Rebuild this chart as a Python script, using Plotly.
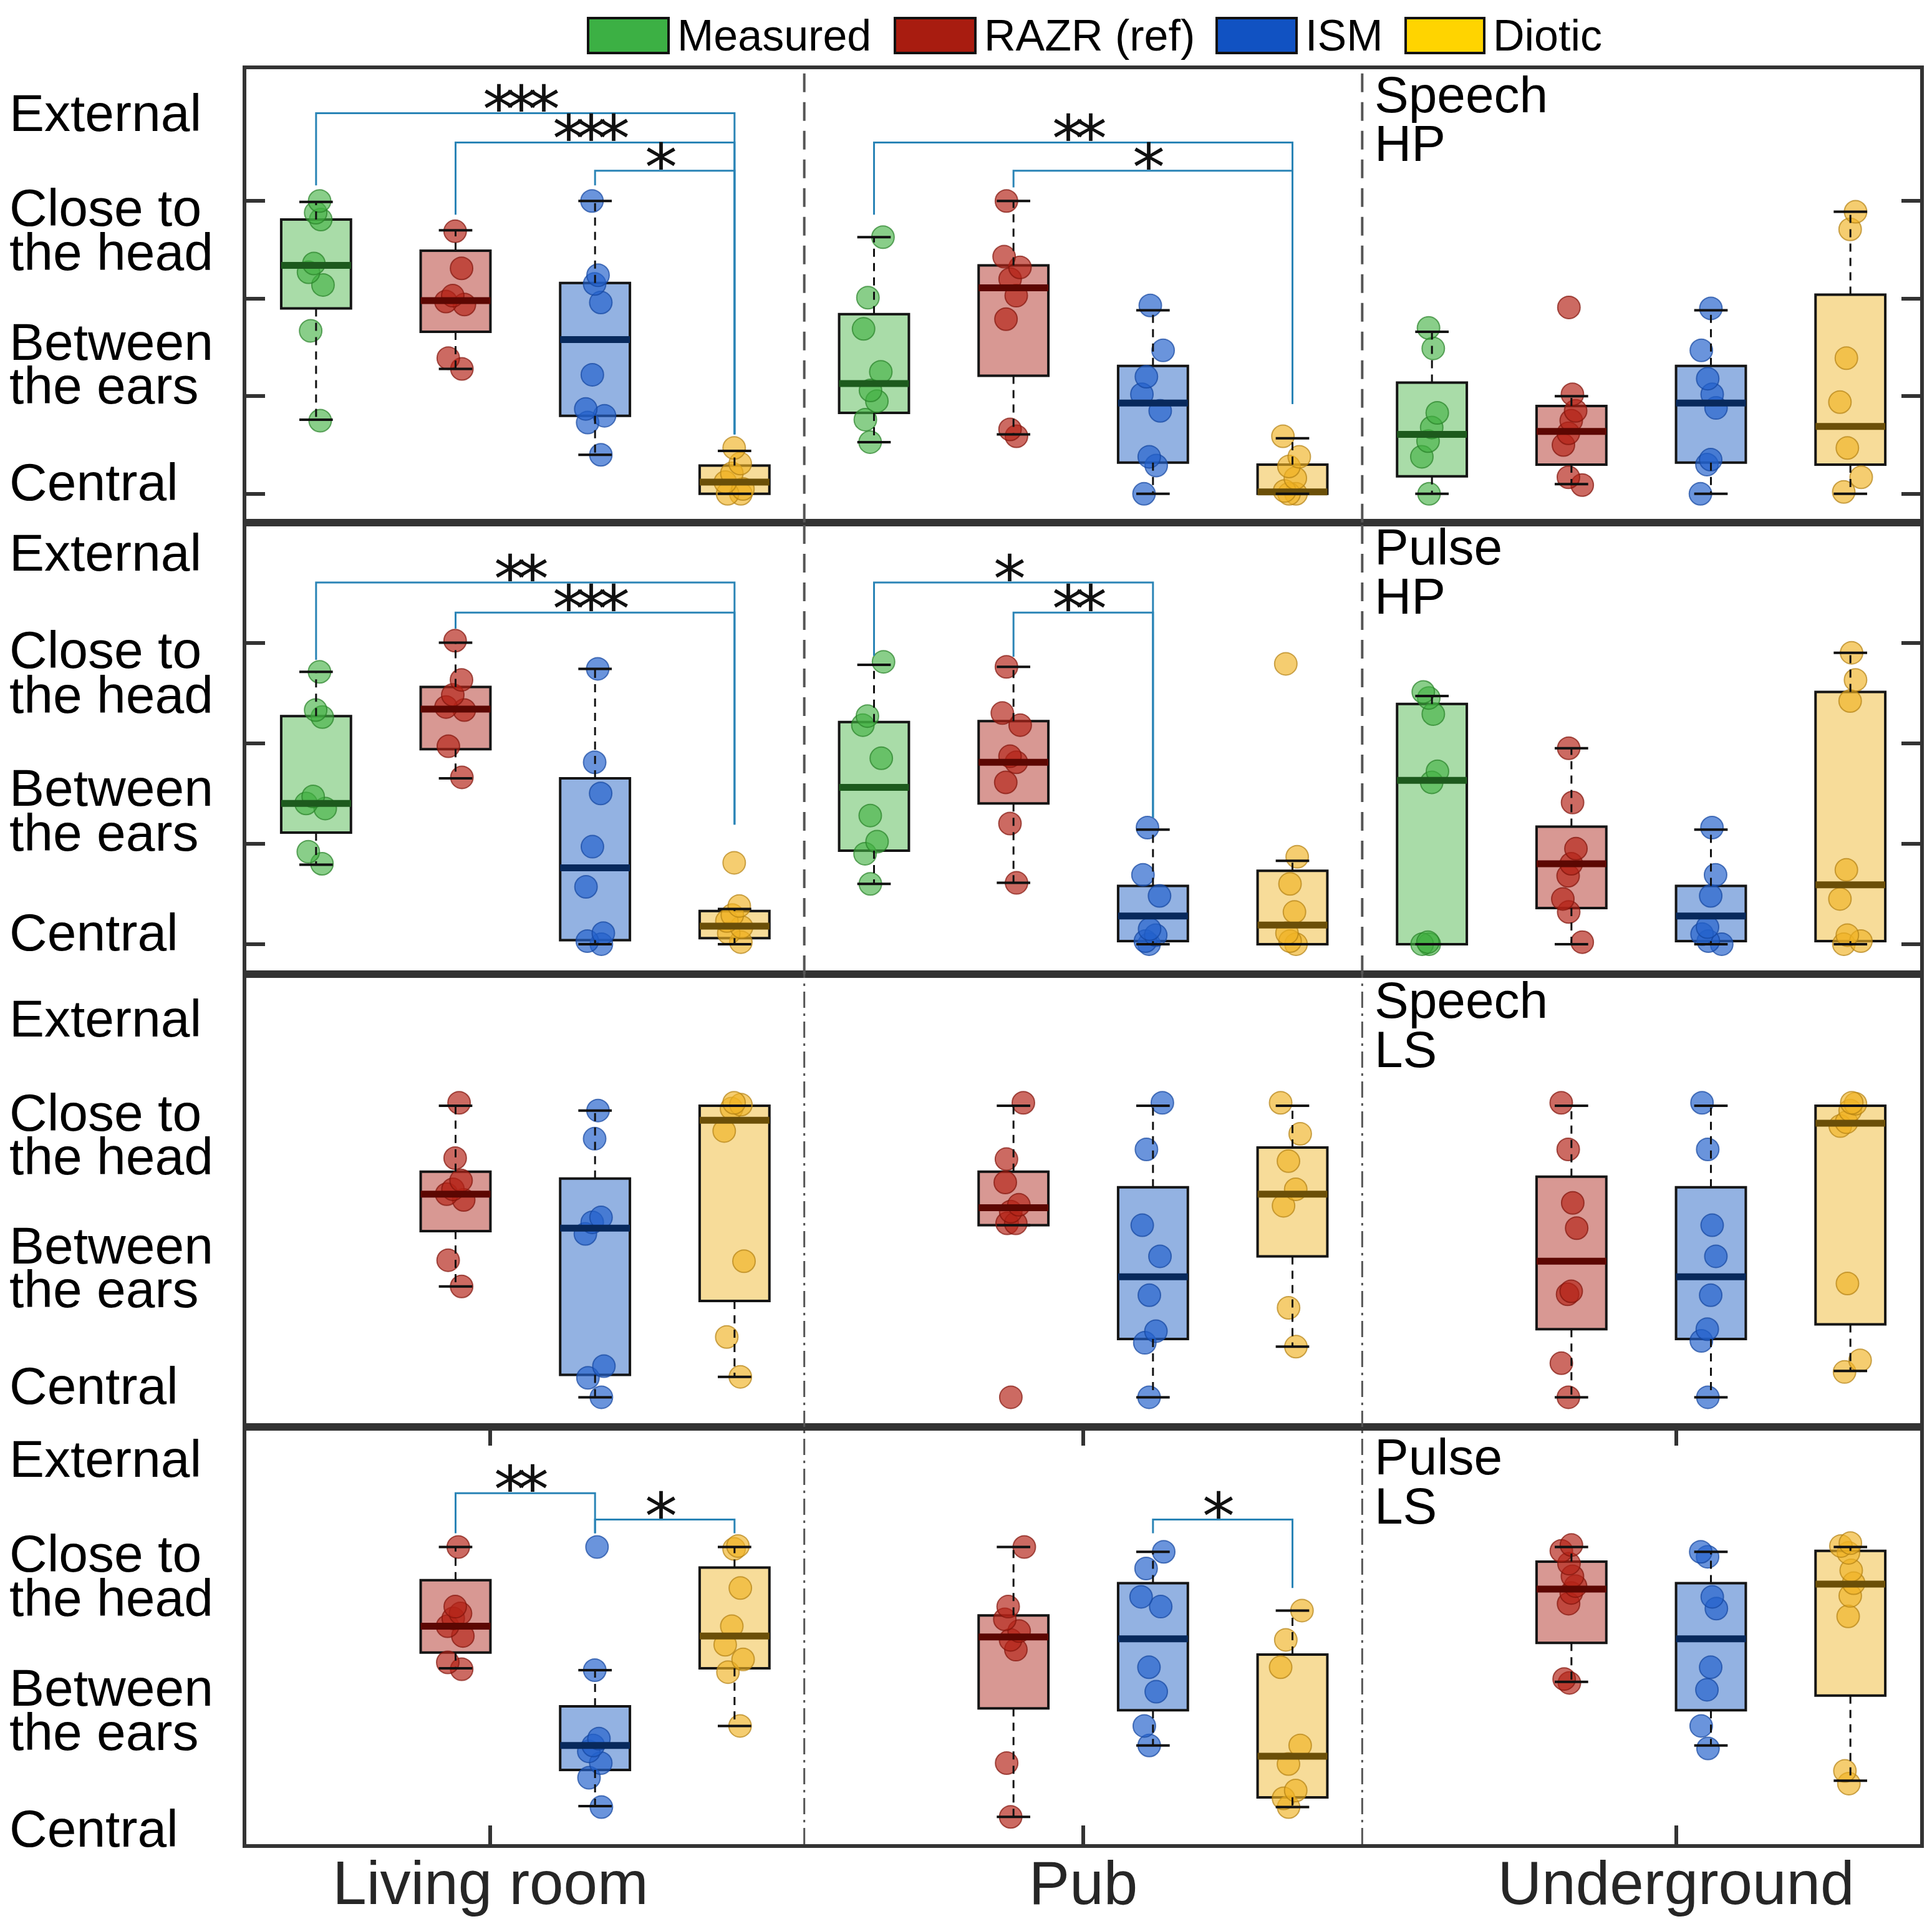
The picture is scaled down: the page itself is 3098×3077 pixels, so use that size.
import plotly.graph_objects as go

rooms = ["Living room", "Pub", "Underground"]
room_ticks = [1.25, 5.5, 9.75]
methods = ["Measured", "RAZR (ref)", "ISM", "Diotic"]

# colours per method
point_fill = ["rgba(64,176,64,0.62)", "rgba(180,36,24,0.68)", "rgba(36,98,204,0.68)", "rgba(240,178,36,0.65)"]
point_edge = ["rgba(40,130,40,0.7)", "rgba(130,20,12,0.7)", "rgba(20,70,160,0.7)", "rgba(180,130,20,0.7)"]
box_fill = ["#a9dca8", "#d89893", "#93b2e2", "#f7dc99"]
median_col = ["#1d5a1d", "#5c0702", "#08295c", "#6b4f08"]
swatch_col = ["#3cb044", "#a81c10", "#1152c2", "#ffd400"]

# y scale labels (rating scale)
scale_lines = ["External", "Close to", "the head", "Between", "the ears", "Central"]
scale_pos = [3.90, 2.93, 2.48, 1.56, 1.11, 0.12]

# ---- Speech / HP ----
# points: [method][room]
speech_hp_points = [
    [[3.0, 2.88, 2.81, 2.36, 2.27, 2.14, 1.67, 0.75],
     [2.63, 2.01, 1.69, 1.25, 1.06, 0.95, 0.76, 0.53],
     [1.70, 1.49, 0.83, 0.68, 0.54, 0.38, 0.0]],
    [[2.69, 2.31, 2.03, 1.97, 1.94, 1.39, 1.28],
     [3.0, 2.43, 2.32, 2.20, 2.03, 1.79, 0.66, 0.59],
     [1.91, 1.02, 0.85, 0.75, 0.62, 0.50, 0.17, 0.09]],
    [[3.0, 2.24, 2.15, 1.96, 1.22, 0.87, 0.80, 0.73, 0.40],
     [1.93, 1.47, 1.20, 1.02, 0.85, 0.38, 0.29, 0.0],
     [1.90, 1.47, 1.18, 1.02, 0.88, 0.35, 0.30, 0.0]],
    [[0.47, 0.31, 0.21, 0.12, 0.05, 0.0, 0.0],
     [0.59, 0.38, 0.28, 0.16, 0.03, 0.0, 0.0],
     [2.89, 2.71, 1.39, 0.94, 0.47, 0.17, 0.02]],
]
# boxes: (lower whisker, q1, median, q3, upper whisker)
speech_hp_boxes = [
    [(0.76, 1.90, 2.34, 2.81, 2.99), (0.53, 0.83, 1.13, 1.84, 2.63), (0.0, 0.18, 0.61, 1.14, 1.66)],
    [(1.28, 1.66, 1.98, 2.49, 2.70), (0.61, 1.21, 2.11, 2.34, 3.0), (0.10, 0.30, 0.64, 0.90, 1.0)],
    [(0.40, 0.80, 1.58, 2.16, 3.0), (0.0, 0.32, 0.93, 1.31, 1.88), (0.0, 0.32, 0.93, 1.31, 1.88)],
    [(0.0, 0.0, 0.12, 0.29, 0.44), (0.0, 0.0, 0.02, 0.30, 0.57), (0.0, 0.30, 0.69, 2.04, 2.89)],
]
# brackets: (from box, to box, level, drop at from, drop at to, stars)
speech_hp_sig = [
    (0, 3, 3.90, 3.16, 0.61, "***"),
    (1, 3, 3.60, 2.86, 0.61, "***"),
    (2, 3, 3.31, 3.16, 0.61, "*"),
    (4, 7, 3.60, 2.86, 0.92, "**"),
    (5, 7, 3.31, 3.14, 0.92, "*"),
]

# ---- Pulse / HP ----
pulse_hp_points = [
    [[2.71, 2.33, 2.26, 1.47, 1.40, 1.35, 0.92, 0.80],
     [2.81, 2.27, 2.18, 1.85, 1.28, 1.02, 0.90, 0.60],
     [2.51, 2.45, 2.29, 1.72, 1.61, 0.02, 0.0, 0.0]],
    [[3.02, 2.63, 2.48, 2.36, 2.33, 1.97, 1.66],
     [2.76, 2.30, 2.18, 1.87, 1.81, 1.61, 1.20, 0.61],
     [1.95, 1.41, 0.95, 0.80, 0.68, 0.45, 0.32, 0.02]],
    [[2.74, 1.81, 1.50, 0.97, 0.57, 0.11, 0.03, 0.0],
     [1.16, 0.69, 0.48, 0.15, 0.09, 0.03, 0.0],
     [1.16, 0.69, 0.48, 0.17, 0.10, 0.03, 0.0]],
    [[0.81, 0.38, 0.29, 0.23, 0.17, 0.11, 0.02],
     [2.79, 0.87, 0.60, 0.32, 0.11, 0.03, 0.0],
     [2.90, 2.63, 2.42, 0.74, 0.45, 0.09, 0.03, 0.0]],
]
pulse_hp_boxes = [
    [(0.79, 1.11, 1.40, 2.27, 2.71), (0.60, 0.93, 1.56, 2.21, 2.78), (0.0, 0.0, 1.63, 2.39, 2.47)],
    [(1.65, 1.94, 2.34, 2.56, 3.0), (0.61, 1.40, 1.81, 2.22, 2.76), (0.0, 0.36, 0.80, 1.17, 1.95)],
    [(0.0, 0.04, 0.76, 1.65, 2.74), (0.0, 0.03, 0.28, 0.58, 1.14), (0.0, 0.03, 0.28, 0.58, 1.14)],
    [(0.0, 0.06, 0.18, 0.33, 0.35), (0.0, 0.0, 0.19, 0.73, 0.83), (0.0, 0.03, 0.59, 2.51, 2.90)],
]
pulse_hp_sig = [
    (0, 3, 3.60, 2.83, 1.19, "**"),
    (1, 3, 3.30, 3.14, 1.19, "***"),
    (4, 6, 3.60, 2.87, 1.26, "*"),
    (5, 6, 3.30, 2.86, 1.26, "**"),
]

# ---- Speech / LS (no measured condition) ----
speech_ls_points = [
    None,
    [[3.03, 2.46, 2.23, 2.14, 2.09, 2.03, 1.41, 1.14],
     [3.03, 2.45, 2.21, 1.98, 1.91, 1.79, 1.79, 0.0],
     [3.03, 2.55, 2.0, 1.74, 1.09, 1.06, 0.35, 0.0]],
    [[2.95, 2.66, 1.85, 1.80, 1.68, 0.32, 0.20, 0.0],
     [3.03, 2.55, 1.77, 1.45, 1.05, 0.68, 0.56, 0.0],
     [3.03, 2.55, 1.77, 1.45, 1.05, 0.70, 0.58, 0.0]],
    [[3.03, 3.01, 2.97, 2.74, 1.40, 0.62, 0.21],
     [3.03, 2.71, 2.43, 2.14, 1.97, 0.92, 0.52],
     [3.03, 3.02, 2.95, 2.83, 2.79, 1.17, 0.38, 0.26]],
]
speech_ls_boxes = [
    None,
    [(1.14, 1.71, 2.09, 2.32, 3.0), (1.77, 1.77, 1.95, 2.32, 3.0), (0.0, 0.70, 1.40, 2.27, 3.0)],
    [(0.0, 0.23, 1.74, 2.25, 2.95), (0.0, 0.60, 1.24, 2.16, 3.0), (0.0, 0.60, 1.24, 2.16, 3.0)],
    [(0.21, 0.99, 2.85, 3.0, 3.0), (0.52, 1.45, 2.09, 2.57, 3.0), (0.27, 0.75, 2.82, 3.0, 3.0)],
]
speech_ls_sig = []

# ---- Pulse / LS (no measured condition) ----
pulse_ls_points = [
    None,
    [[3.0, 2.39, 2.32, 2.27, 2.19, 2.09, 1.82, 1.75],
     [3.0, 2.39, 2.26, 2.14, 2.05, 1.95, 0.79, 0.24],
     [3.02, 2.96, 2.83, 2.70, 2.60, 2.53, 2.42, 1.65, 1.61]],
    [[3.0, 1.74, 1.04, 0.97, 0.91, 0.79, 0.64, 0.34],
     [2.95, 2.78, 2.49, 2.39, 1.77, 1.52, 1.17, 0.97],
     [2.95, 2.90, 2.49, 2.37, 1.77, 1.54, 1.17, 0.94]],
    [[3.01, 2.98, 2.58, 2.19, 2.0, 1.85, 1.72, 1.17],
     [2.35, 2.05, 1.77, 0.97, 0.78, 0.51, 0.43, 0.34],
     [3.04, 3.01, 2.94, 2.76, 2.63, 2.50, 2.29, 0.71, 0.58]],
]
pulse_ls_boxes = [
    None,
    [(1.76, 1.92, 2.19, 2.66, 3.0), (0.24, 1.35, 2.08, 2.30, 3.0), (1.62, 2.02, 2.57, 2.85, 3.0)],
    [(0.35, 0.72, 0.97, 1.37, 1.74), (0.97, 1.33, 2.06, 2.63, 2.95), (0.97, 1.33, 2.06, 2.63, 2.95)],
    [(1.17, 1.76, 2.09, 2.79, 3.0), (0.34, 0.44, 0.86, 1.90, 2.35), (0.61, 1.48, 2.62, 2.96, 3.0)],
]
pulse_ls_sig = [
    (1, 2, 3.55, 3.14, 3.14, "**"),
    (2, 3, 3.28, 3.14, 3.14, "*"),
    (6, 7, 3.28, 3.14, 2.58, "*"),
]

panel_titles = [("Speech", "HP"), ("Pulse", "HP"), ("Speech", "LS"), ("Pulse", "LS")]
panel_points = [speech_hp_points, pulse_hp_points, speech_ls_points, pulse_ls_points]
panel_boxes = [speech_hp_boxes, pulse_hp_boxes, speech_ls_boxes, pulse_ls_boxes]
panel_sig = [speech_hp_sig, pulse_hp_sig, speech_ls_sig, pulse_ls_sig]

y_ranges = [[-0.294, 4.35], [-0.298, 4.196], [-0.305, 4.354], [-0.039, 4.228]]
y_domains = [[0.7446, 1.0], [0.4902, 0.7446], [0.2351, 0.4902], [0.0, 0.2351]]
title_shift = [(-40, -118), (-39, -117), (-42, -120), (-48, -126)]

FONT = "Liberation Sans, Arial, sans-serif"
FRAME = "#333333"
BRACKET = "#2a84b6"

fig = go.Figure()
annotations = []
shapes = []

for p in range(4):
    xa = "x" if p == 0 else f"x{p + 1}"
    ya = "y" if p == 0 else f"y{p + 1}"
    for m in range(4):
        pts = panel_points[p][m]
        bxs = panel_boxes[p][m]
        if pts is None:
            continue
        pos = [r * 4 + m for r in range(3)]

        # boxes (precomputed quartiles, whiskers drawn separately)
        fig.add_trace(go.Box(
            x=pos, q1=[b[1] for b in bxs], median=[b[2] for b in bxs], q3=[b[3] for b in bxs],
            lowerfence=[b[1] for b in bxs], upperfence=[b[3] for b in bxs],
            width=0.5, fillcolor=box_fill[m], line=dict(color="#151515", width=4),
            boxpoints=False, showlegend=False, hoverinfo="skip", xaxis=xa, yaxis=ya,
        ))

        # jittered points
        xs, ys = [], []
        for x0, vals in zip(pos, pts):
            xs += [x0] * len(vals)
            ys += vals
        fig.add_trace(go.Box(
            x=xs, y=ys, boxpoints="all", jitter=0.35, pointpos=0, width=0.5,
            fillcolor="rgba(0,0,0,0)", line=dict(color="rgba(0,0,0,0)", width=0),
            marker=dict(size=36, color=point_fill[m], line=dict(color=point_edge[m], width=2)),
            showlegend=False, name=methods[m], xaxis=xa, yaxis=ya,
        ))

        # medians
        mx, my = [], []
        for x0, b in zip(pos, bxs):
            mx += [x0 - 0.25, x0 + 0.25, None]
            my += [b[2], b[2], None]
        fig.add_trace(go.Scatter(x=mx, y=my, mode="lines", line=dict(color=median_col[m], width=11),
                                 showlegend=False, hoverinfo="skip", xaxis=xa, yaxis=ya))

        # dashed whiskers and caps
        wx, wy, cx, cy = [], [], [], []
        for x0, b in zip(pos, bxs):
            wx += [x0, x0, None, x0, x0, None]
            wy += [b[3], b[4], None, b[1], b[0], None]
            cx += [x0 - 0.12, x0 + 0.12, None, x0 - 0.12, x0 + 0.12, None]
            cy += [b[4], b[4], None, b[0], b[0], None]
        fig.add_trace(go.Scatter(x=wx, y=wy, mode="lines", line=dict(color="#111", width=3, dash="13px,10px"),
                                 showlegend=False, hoverinfo="skip", xaxis=xa, yaxis=ya))
        fig.add_trace(go.Scatter(x=cx, y=cy, mode="lines", line=dict(color="#111", width=4),
                                 showlegend=False, hoverinfo="skip", xaxis=xa, yaxis=ya))

    # significance brackets with their asterisks (tight letter spacing, trimmed text box)
    for a, b, lvl, da, db, stars in panel_sig[p]:
        fig.add_trace(go.Scatter(x=[a, a, b, b], y=[da, lvl, lvl, db], mode="lines",
                                 line=dict(color=BRACKET, width=3),
                                 showlegend=False, hoverinfo="skip", xaxis=xa, yaxis=ya))
        annotations.append(dict(x=(a + b) / 2, y=lvl, xref=xa, yref=ya,
                                text=f'<span style="letter-spacing:-16px">{stars}</span>',
                                showarrow=False, yanchor="bottom", valign="top",
                                height=64, borderpad=0, yshift=1, xshift=-8,
                                font=dict(family="DejaVu Sans", size=104, color="#111")))

    # room dividers
    dash = "30px,16px" if p < 2 else "26px,9px,4px,9px"
    for xd in (3.5, 7.5):
        shapes.append(dict(type="line", xref=xa, yref=f"{ya} domain", x0=xd, x1=xd, y0=0, y1=1,
                           line=dict(color="#555", width=4 if p < 2 else 3, dash=dash)))

    # panel title (second line box trimmed so the two lines sit tight)
    for k, (txt, sh) in enumerate(zip(panel_titles[p], title_shift[p])):
        ann = dict(x=7.5, y=1, xref=xa, yref=f"{ya} domain", text=txt, showarrow=False,
                   xanchor="left", yanchor="middle", xshift=18, yshift=sh,
                   font=dict(family=FONT, size=82, color="#000"))
        if k == 1:
            ann["height"] = 62
        annotations.append(ann)

    # rating scale labels
    for txt, v in zip(scale_lines, scale_pos):
        annotations.append(dict(x=-0.1423, y=v, xref="paper", yref=ya, text=txt, showarrow=False,
                                xanchor="left", yanchor="middle", height=66,
                                font=dict(family=FONT, size=84, color="#000")))

    axis_common = dict(showline=True, linecolor=FRAME, linewidth=6, showgrid=False, zeroline=False)
    xkw = dict(axis_common, range=[-0.5, 11.5], anchor=ya, domain=[0, 1], mirror=True)
    if p == 3:
        xkw.update(tickmode="array", tickvals=room_ticks, ticktext=rooms, ticks="inside",
                   ticklen=30, tickwidth=6, tickcolor=FRAME, mirror="ticks", ticklabelstandoff=-28,
                   tickfont=dict(family=FONT, size=98, color="#262626"))
    else:
        xkw.update(showticklabels=False, ticks="", matches="x4")
    ykw = dict(axis_common, range=y_ranges[p], domain=y_domains[p], anchor=xa, showticklabels=False)
    if p < 2:
        ykw.update(tickmode="array", tickvals=[0, 1, 2, 3], ticks="inside", ticklen=30,
                   tickwidth=6, tickcolor=FRAME, mirror="ticks")
    else:
        ykw.update(ticks="", mirror=True)
    fig.update_layout({("xaxis" if p == 0 else f"xaxis{p + 1}"): xkw,
                       ("yaxis" if p == 0 else f"yaxis{p + 1}"): ykw})

# manual legend along the top
legend_x0 = [935, 1427, 1943, 2246]
legend_x1 = [1064, 1556, 2071, 2372]
W, H, L, T, B = 3098, 3077, 387, 103, 128
pw, ph = W - L - 27, H - T - B
for m in range(4):
    shapes.append(dict(type="rect", xref="paper", yref="paper",
                       x0=(legend_x0[m] - L) / pw, x1=(legend_x1[m] - L) / pw,
                       y0=(H - B - 77) / ph, y1=(H - B - 21) / ph,
                       fillcolor=swatch_col[m], line=dict(color="#111", width=4)))
    annotations.append(dict(x=(legend_x1[m] + 12 - L) / pw, y=(H - B - 49) / ph, xref="paper", yref="paper",
                            text=methods[m], showarrow=False, xanchor="left", yanchor="middle",
                            font=dict(family=FONT, size=70, color="#000")))

fig.update_layout(
    width=W, height=H,
    margin=dict(l=L, r=27, t=T, b=B),
    paper_bgcolor="white", plot_bgcolor="white",
    showlegend=False, boxmode="overlay",
    annotations=annotations, shapes=shapes,
)

fig.write_html("out.html")
